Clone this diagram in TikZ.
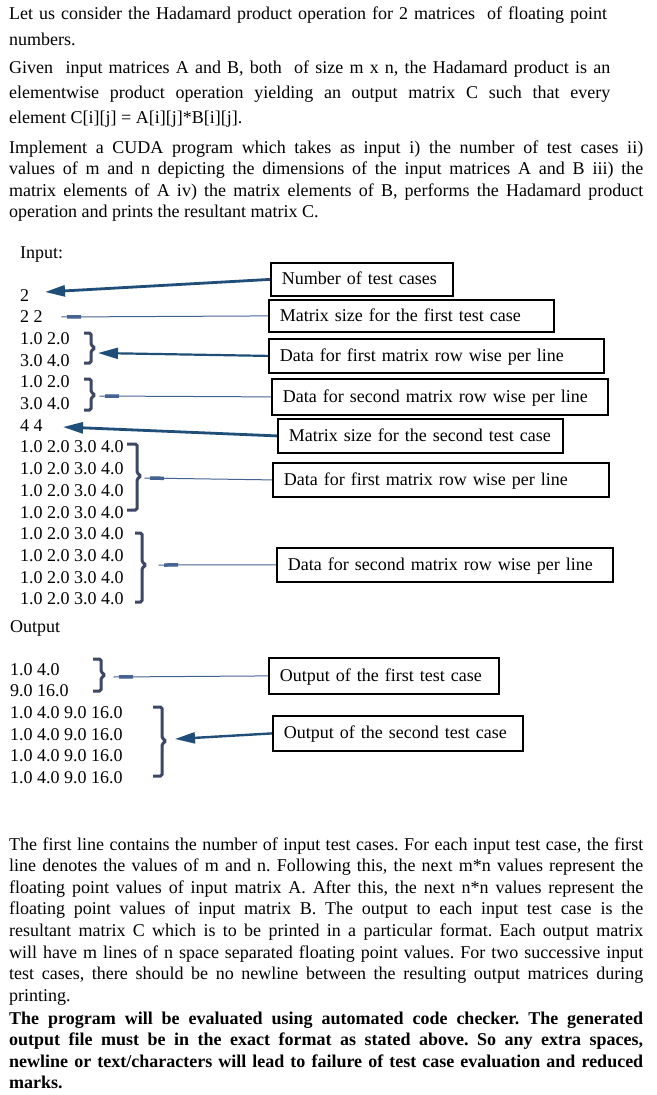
\documentclass[tikz,border=0pt]{standalone}
\usepackage{fontspec}
\setmainfont{Liberation Serif}
\usetikzlibrary{arrows.meta}
\frenchspacing

\definecolor{arrowblue}{RGB}{31,78,121}
\definecolor{leadblue}{RGB}{70,100,145}
\definecolor{bracegray}{RGB}{62,72,100}

\begin{document}
\begin{tikzpicture}[x=1pt, y=-1pt,
    para/.style={anchor=base west, inner sep=0pt, align=justify, font=\fontsize{18}{21.6}\selectfont},
    rowtext/.style={anchor=base west, inner sep=0pt, font=\fontsize{18}{21.7}\selectfont},
    notebox/.style={draw=black, line width=1.8pt, anchor=north west, inner xsep=11pt, inner ysep=0pt,
        align=left, text height=12.5pt, text depth=1.5pt, font=\fontsize{18}{21.6}\selectfont},
    bigarrow/.style={draw=arrowblue, line width=2.8pt, -{Triangle[length=20pt,width=11pt]}},
    leader/.style={draw=leadblue, line width=1pt, -{Rectangle[length=14pt,width=3.5pt] Rectangle[length=6pt,width=1pt]}},
    bracketline/.style={draw=bracegray, line width=3pt, rounded corners=1.5pt}]
    \useasboundingbox[fill=white] (0,0) rectangle (656,1095);

    % Problem statement
    \node[para, align=left, text width=640pt, font=\fontsize{18}{26}\selectfont] (intro) at (9,19)
        {Let us consider the Hadamard product operation for 2 matrices\ \ of floating point\\numbers.};
    \node[para, text width=601pt, font=\fontsize{18}{25}\selectfont] (given) at (9,73)
        {Given\ \ input matrices A and B, both\ \ of size m x n, the Hadamard product is an\linebreak
         elementwise product operation yielding an output matrix C such that every\linebreak
         element C[i][j] = A[i][j]*B[i][j].};
    \node[para, text width=634pt] (task) at (9,153)
        {Implement a CUDA program which takes as input i) the number of test cases ii)\linebreak
         values of m and n depicting the dimensions of the input matrices A and B iii) the\linebreak
         matrix elements of A iv) the matrix elements of B, performs the Hadamard product\linebreak
         operation and prints the resultant matrix C.};

    % Sample input
    \node[rowtext] (inputlbl) at (20,258) {Input:};
    \foreach \txt [count=\i] in {2,2 2,1.0 2.0,3.0 4.0,1.0 2.0,3.0 4.0,4 4,
        1.0 2.0 3.0 4.0,1.0 2.0 3.0 4.0,1.0 2.0 3.0 4.0,1.0 2.0 3.0 4.0,
        1.0 2.0 3.0 4.0,1.0 2.0 3.0 4.0,1.0 2.0 3.0 4.0,1.0 2.0 3.0 4.0} {
        \node[rowtext] (in\i) at (20,279.3+21.7*\i) {\txt};
    }

    % Sample output
    \node[rowtext] (outputlbl) at (10,632) {Output};
    \foreach \txt [count=\i] in {1.0 4.0,9.0 16.0,1.0 4.0 9.0 16.0,1.0 4.0 9.0 16.0,
        1.0 4.0 9.0 16.0,1.0 4.0 9.0 16.0} {
        \node[rowtext] (out\i) at (10,653.3+21.7*\i) {\txt};
    }

    % Brackets round the matrices
    \foreach \xa/\xv/\yt/\ym/\yb in {84/91/333/348/363, 84/91/379/395/410,
        127/137/444/476/510, 135/142/533/565/602, 93/101/659/675/691, 153/162/707/741/776} {
        \draw[bracketline] (\xa,\yt) -- (\xv,\yt) -- (\xv,\ym-3) -- (\xv+4,\ym)
            -- (\xv,\ym+3) -- (\xv,\yb) -- (\xa,\yb);
    }

    % Notes
    \node[notebox, text width=160pt, minimum height=33pt] (ncases) at (270,262) {Number of test cases};
    \node[notebox, text width=263pt, minimum height=32pt] (size1) at (268,299) {Matrix size for the first test case};
    \node[notebox, text width=313pt, minimum height=34pt] (dataA1) at (268,338) {Data for first matrix row wise per line};
    \node[notebox, text width=314pt, minimum height=36pt] (dataB1) at (271,378) {Data for second matrix row wise per line};
    \node[notebox, text width=263pt, minimum height=34pt] (size2) at (277,418) {Matrix size for the second test case};
    \node[notebox, text width=314pt, minimum height=34pt] (dataA2) at (272,462) {Data for first matrix row wise per line};
    \node[notebox, text width=314pt, minimum height=34pt] (dataB2) at (276,547) {Data for second matrix row wise per line};
    \node[notebox, text width=208pt, minimum height=36pt] (outcase1) at (268,657) {Output of the first test case};
    \node[notebox, text width=228pt, minimum height=35pt] (outcase2) at (272,715) {Output of the second test case};

    % Connector ends
    \coordinate (casestip) at (45,292);
    \coordinate (size1end) at (61,317);
    \coordinate (dataA1tip) at (98,353);
    \coordinate (dataB1end) at (99,396);
    \coordinate (size2tip) at (63,427);
    \coordinate (dataA2end) at (144,478);
    \coordinate (dataB2end) at (158,565);
    \coordinate (out1end) at (113,677);
    \coordinate (out2tip) at (175,739);

    \draw[bigarrow] (ncases.west) -- (casestip);
    \draw[leader] (size1.west) -- (size1end);
    \draw[bigarrow, line width=2.2pt] (dataA1.west) -- (dataA1tip);
    \draw[leader] (dataB1.west) -- (dataB1end);
    \draw[bigarrow] (size2.west) -- (size2tip);
    \draw[leader] (dataA2.west) -- (dataA2end);
    \draw[leader] (dataB2.west) -- (dataB2end);
    \draw[leader] (outcase1.west) -- (out1end);
    \draw[bigarrow, line width=2.4pt] (outcase2.west) -- (out2tip);

    % Explanation
    \node[para, text width=634pt] (explain) at (9,850)
        {The first line contains the number of input test cases. For each input test case, the first\linebreak
         line denotes the values of m and n. Following this, the next m*n values represent the\linebreak
         floating point values of input matrix A. After this, the next n*n values represent the\linebreak
         floating point values of input matrix B. The output to each input test case is the\linebreak
         resultant matrix C which is to be printed in a particular format. Each output matrix\linebreak
         will have m lines of n space separated floating point values. For two successive input\linebreak
         test cases, there should be no newline between the resulting output matrices during\linebreak
         printing.};
    \node[para, text width=634pt, font=\fontsize{18}{21.6}\selectfont\bfseries] (warning) at (9,1024)
        {The program will be evaluated using automated code checker. The generated\linebreak
         output file must be in the exact format as stated above. So any extra spaces,\linebreak
         newline or text/characters will lead to failure of test case evaluation and reduced\linebreak
         marks.};
\end{tikzpicture}
\end{document}
